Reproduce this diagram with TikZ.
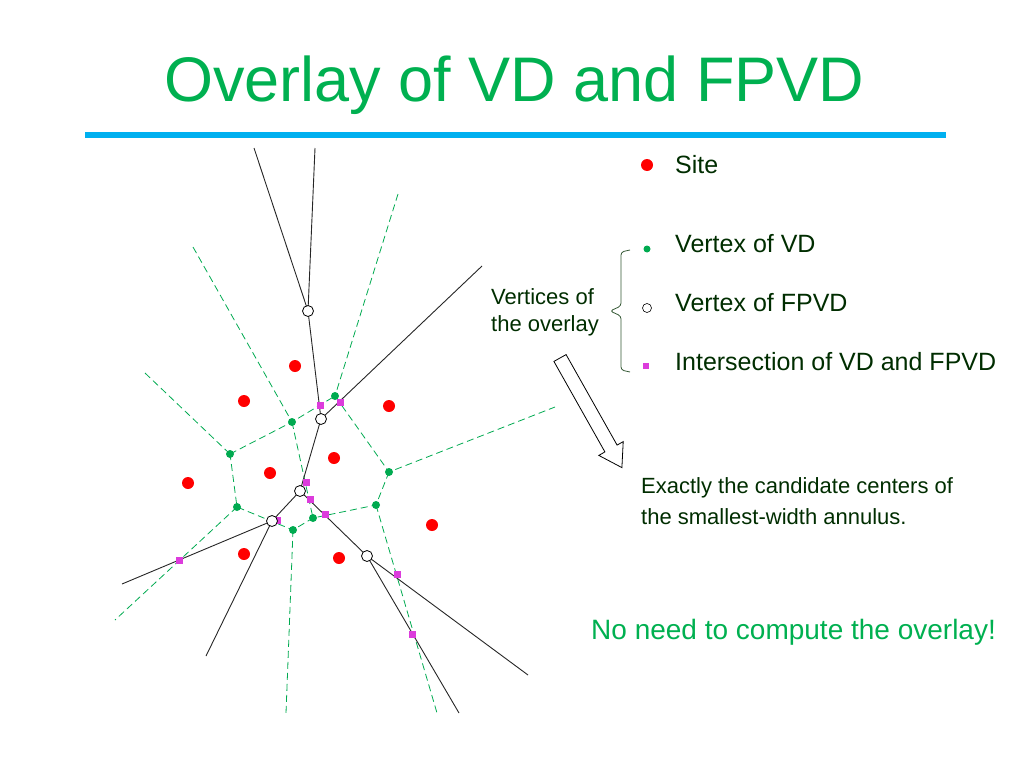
\documentclass[tikz,border=0pt]{standalone}
\usepackage{fontspec}
\setmainfont{Liberation Sans}
\begin{document}
\begin{tikzpicture}[x=1pt,y=-1pt,
  vd/.style={circle,fill=vdg,inner sep=0pt,minimum size=8pt},
  fp/.style={circle,draw=black,fill=white,inner sep=0pt,minimum size=11pt,line width=0.8pt},
  ix/.style={rectangle,fill=mag,inner sep=0pt,minimum size=7pt},
  site/.style={circle,fill=red,inner sep=0pt,minimum size=12pt},
  vdl/.style={dashed,draw=vdg,line width=0.8pt,dash pattern=on 7pt off 4pt},
  fpl/.style={draw=black!85,line width=0.9pt},
  txt/.style={text=tcol,anchor=west,inner sep=0pt}]
\definecolor{vdg}{RGB}{0,170,80}
\definecolor{mag}{RGB}{220,60,220}
\definecolor{tcol}{RGB}{0,45,0}
\definecolor{ttl}{RGB}{0,176,80}
\definecolor{bar}{RGB}{0,176,240}
\useasboundingbox (0,0) rectangle (1024,768);
\node[anchor=west,text=ttl,font=\fontsize{63}{75}\selectfont,inner sep=0pt] (title) at (164,85) {Overlay of VD and FPVD};
\draw[bar,line width=6pt] (85,135) -- (946,135);
% coordinates
\coordinate (b1) at (254,148); \coordinate (b2) at (315,148);
\coordinate (b3) at (482,266); \coordinate (b4) at (122,584);
\coordinate (b5) at (206,656); \coordinate (b6) at (528,675);
\coordinate (b7) at (459,713);
\coordinate (e1) at (398,194); \coordinate (e2) at (193,247);
\coordinate (e3) at (145,373); \coordinate (e4) at (555,407);
\coordinate (e5) at (115,620); \coordinate (e6) at (286,713);
\coordinate (e7) at (437,713);
\coordinate (g1) at (335,396); \coordinate (g2) at (292,422);
\coordinate (g3) at (230,454); \coordinate (g4) at (389,472);
\coordinate (g5) at (237,507); \coordinate (g6) at (376,505);
\coordinate (g7) at (313,518); \coordinate (g8) at (293,530);
\coordinate (f1) at (308,311); \coordinate (f2) at (321,419);
\coordinate (f3) at (300,491); \coordinate (f4) at (272,521);
\coordinate (f5) at (367,556);
% VD dashed
\draw[vdl] (e1)--(g1) (e2)--(g2) (e3)--(g3) (g3)--(g2)--(g1)--(g4)--(e4)
  (g4)--(g6)--(g7)--(g8)--(g5)--(g3) (g2)--(g7) (g5)--(e5) (g8)--(e6) (g6)--(e7);
% FPVD
\draw[fpl] (b1)--(f1) (b2)--(f1) (f1)--(f2)--(b3) (f2)--(f3)--(f4)--(b4)
  (f4)--(b5) (f3)--(f5)--(b6) (f5)--(b7);
% sites
\foreach \p [count=\i] in {(295,366),(244,401),(389,406),(334,458),(270,473),(188,483),(432,525),(244,554),(339,558)}
  \node[site] (s\i) at \p {};
% VD vertices
\foreach \i in {1,...,8} \node[vd] (vg\i) at (g\i) {};
% intersections
\foreach \p [count=\i] in {(320,405),(340,402),(306,482),(310,499),(325,514),(277,520),(179,560),(397,574),(412,634)}
  \node[ix] (m\i) at \p {};
% FPVD vertices
\foreach \i in {1,...,5} \node[fp] (vf\i) at (f\i) {};
% legend
\node[site] (ls) at (647,165) {};
\node[txt,font=\fontsize{25}{29}\selectfont] (lt1) at (675,165) {Site};
\node[vd,minimum size=7pt] (lv) at (647,249) {};
\node[txt,font=\fontsize{25}{29}\selectfont] (lt2) at (675,244) {Vertex of VD};
\node[circle,draw=black,inner sep=0pt,minimum size=9pt,line width=0.6pt] (lf) at (647,308) {};
\node[txt,font=\fontsize{25}{29}\selectfont] (lt3) at (675,303) {Vertex of FPVD};
\node[ix,minimum size=6pt] (li) at (646,366) {};
\node[txt,font=\fontsize{25}{29}\selectfont] (lt4) at (675,362) {Intersection of VD and FPVD};
\draw[tcol!80,line width=0.8pt,rounded corners=3pt] (630,250) -- (621,252) -- (621,306) -- (610,311) -- (621,316) -- (621,370) -- (630,372);
\node[txt,font=\fontsize{22}{27}\selectfont,align=left] (vo) at (491,312) {Vertices of\\the overlay};
\draw[line width=0.8pt,fill=white] (566.1,354.6) -- (617.1,445.1) -- (623.2,441.6) -- (621.9,467.6) -- (598.8,455.4) -- (604.9,451.9) -- (553.9,361.4) -- cycle;
\node[txt,font=\fontsize{22}{31}\selectfont,align=left] (ex) at (641,501) {Exactly the candidate centers of\\the smallest-width annulus.};
\node[txt,text=ttl,font=\fontsize{28}{32}\selectfont] (nn) at (591,632) {No need to compute the overlay!};
\end{tikzpicture}
\end{document}
